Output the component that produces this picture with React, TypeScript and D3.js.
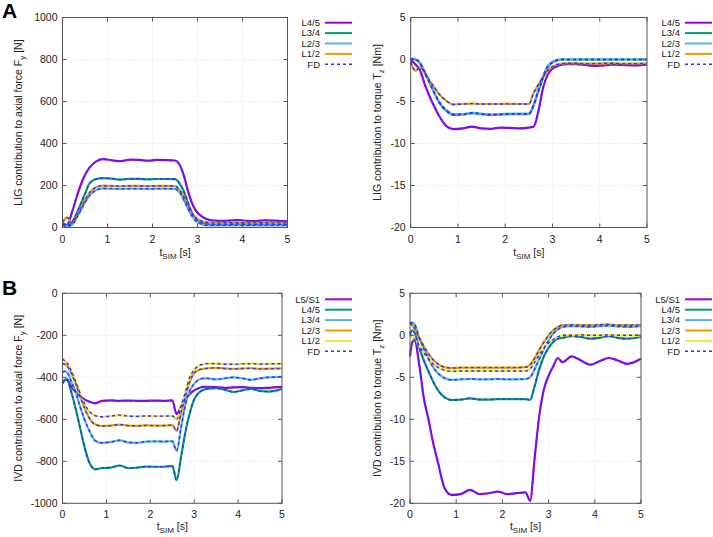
import * as d3 from 'd3';

// shared time samples [s]
const T = [0, 0.05, 0.1, 0.2, 0.3, 0.4, 0.5, 0.6, 0.75, 0.9, 1.1, 1.3, 1.5, 1.7, 1.9, 2.1, 2.3, 2.5, 2.6, 2.7, 2.8, 2.9, 3.0, 3.1, 3.2, 3.3, 3.5, 3.7, 3.9, 4.1, 4.3, 4.5, 4.7, 5.0];
const xTicks = [0, 1, 2, 3, 4, 5];

// A: ligament contribution to Fy [N]
const ligFyL45 = [20, 15, 12, 65, 135, 200, 250, 285, 315, 326, 320, 316, 323, 322, 318, 322, 321, 319, 300, 245, 165, 105, 70, 52, 40, 34, 32, 33, 35, 32, 31, 34, 33, 30];
const ligFyL34 = [15, 10, 8, 22, 60, 110, 160, 210, 231, 235, 233, 228, 232, 232, 229, 231, 231, 230, 210, 170, 110, 60, 35, 22, 17, 15, 14, 15, 16, 15, 14, 15, 15, 14];
const ligFyL23 = [10, 8, 6, 12, 40, 80, 120, 152, 178, 186, 185, 184, 185, 185, 184, 185, 185, 184, 168, 130, 85, 48, 25, 15, 11, 10, 10, 10, 11, 10, 10, 10, 10, 10];
const ligFyL12 = [25, 38, 48, 22, 50, 90, 130, 165, 192, 199, 198, 197, 198, 198, 197, 198, 198, 197, 180, 145, 100, 62, 40, 30, 25, 22, 22, 23, 23, 22, 22, 23, 22, 22];

// A: ligament contribution to Tz [Nm]
const ligTzL45 = [0, -0.3, -0.6, -1.3, -3.0, -4.4, -5.6, -6.7, -7.9, -8.3, -8.2, -8.0, -8.2, -8.25, -8.1, -8.15, -8.2, -8.1, -8.0, -6.2, -3.4, -1.8, -1.1, -0.8, -0.62, -0.55, -0.55, -0.65, -0.75, -0.7, -0.6, -0.65, -0.7, -0.6];
const ligTzL34 = [0, 0.05, 0, -0.5, -1.6, -2.8, -4.0, -5.1, -6.1, -6.6, -6.55, -6.4, -6.5, -6.6, -6.55, -6.5, -6.5, -6.5, -5.5, -3.8, -2.2, -0.9, -0.35, -0.1, 0, 0, 0, 0, 0, 0, 0, 0, 0, 0];
const ligTzL23 = [0.05, 0.1, 0.05, -0.4, -1.5, -2.7, -3.9, -5.0, -6.0, -6.5, -6.5, -6.35, -6.45, -6.55, -6.5, -6.45, -6.45, -6.45, -5.4, -3.6, -2.0, -0.8, -0.3, -0.05, 0, 0, 0, 0, 0, 0, 0, 0, 0, 0];
const ligTzL12 = [-0.3, -1.0, -1.35, -0.9, -1.6, -2.5, -3.3, -4.1, -4.9, -5.35, -5.3, -5.25, -5.3, -5.3, -5.3, -5.28, -5.3, -5.3, -4.0, -3.0, -2.1, -1.3, -0.85, -0.6, -0.5, -0.45, -0.45, -0.5, -0.5, -0.45, -0.45, -0.5, -0.5, -0.45];

// B: disc contribution to Fy [N]
const ivdFyL5S1 = [-425, -415, -410, -445, -470, -490, -505, -515, -524, -512, -510, -512, -511, -512, -512, -511, -512, -510, -575, -540, -505, -480, -462, -452, -446, -445, -447, -450, -448, -447, -450, -452, -450, -446];
const ivdFyL45 = [-430, -412, -410, -470, -550, -640, -730, -800, -838, -832, -830, -820, -833, -830, -825, -826, -826, -822, -890, -780, -660, -570, -505, -475, -460, -455, -452, -460, -470, -462, -455, -465, -468, -455];
const ivdFyL34 = [-375, -372, -375, -420, -470, -540, -600, -650, -702, -712, -708, -700, -710, -712, -706, -705, -706, -704, -750, -640, -530, -465, -430, -412, -405, -405, -410, -405, -400, -405, -412, -405, -400, -398];
const ivdFyL23 = [-335, -338, -345, -380, -430, -490, -545, -590, -625, -632, -630, -625, -630, -631, -629, -630, -630, -628, -655, -570, -490, -420, -380, -365, -360, -357, -355, -358, -360, -358, -357, -360, -359, -358];
const ivdFyL12 = [-312, -322, -330, -370, -420, -475, -525, -560, -583, -588, -585, -580, -585, -586, -584, -585, -585, -584, -600, -540, -470, -400, -365, -345, -338, -335, -335, -338, -338, -336, -335, -337, -336, -335];

// B: disc contribution to Tz [Nm]
const ivdTzL5S1 = [-2.5, -0.8, -0.6, -3.5, -7.5, -10.0, -12.8, -15.0, -18.2, -19.0, -18.9, -18.4, -18.9, -18.8, -18.6, -18.9, -18.8, -18.7, -19.7, -14.5, -9.5, -6.4, -4.8, -3.7, -2.7, -3.2, -2.5, -3.0, -3.5, -3.1, -2.7, -3.0, -3.4, -2.8];
const ivdTzL45 = [0.2, 0.6, 0.3, -1.5, -3.0, -4.3, -5.5, -6.5, -7.4, -7.7, -7.65, -7.5, -7.65, -7.65, -7.6, -7.6, -7.6, -7.6, -7.7, -6.0, -4.0, -2.5, -1.5, -0.8, -0.4, -0.3, -0.1, -0.2, -0.4, -0.3, -0.1, -0.3, -0.4, -0.2];
const ivdTzL34 = [1.5, 1.5, 1.3, -0.3, -1.6, -2.8, -3.8, -4.5, -5.1, -5.3, -5.25, -5.2, -5.25, -5.25, -5.2, -5.25, -5.25, -5.2, -5.0, -4.0, -2.8, -1.6, -0.6, 0.2, 0.7, 1.0, 1.1, 1.05, 1.0, 1.1, 1.15, 1.05, 1.0, 1.1];
const ivdTzL23 = [1.5, 1.2, 0.8, -0.3, -1.3, -2.2, -2.9, -3.4, -3.8, -3.9, -3.85, -3.85, -3.85, -3.85, -3.85, -3.85, -3.85, -3.8, -3.5, -2.7, -1.7, -0.8, 0, 0.6, 1.0, 1.2, 1.25, 1.2, 1.2, 1.25, 1.3, 1.2, 1.2, 1.25];
const ivdTzL12 = [0.2, -0.2, -0.5, -1.3, -2.1, -2.8, -3.4, -3.8, -4.15, -4.3, -4.25, -4.25, -4.25, -4.25, -4.25, -4.25, -4.25, -4.25, -4.0, -3.2, -2.3, -1.5, -0.9, -0.5, -0.2, 0, 0, 0.05, 0, 0, 0.05, 0, 0, 0];

const C = {
  purple: '#a000dc',
  green: '#009e73',
  cyan: '#56b4e9',
  orange: '#e69f00',
  yellow: '#f0e442',
  fd: '#2f2fff',
};

const FONT = '"Liberation Sans", Arial, sans-serif';

type Series = { name: string; color: string; values: number[] };

type PanelProps = {
  x0: number; x1: number; y0: number; y1: number;
  yDomain: [number, number];
  yTicks: number[];
  series: Series[];
  yLabel: [string, string, string];
  yLabelX: number;
  xLabelY: number;
  legendX: number;
  legendY: number;
};

const Panel = ({ x0, x1, y0, y1, yDomain, yTicks, series, yLabel, yLabelX, xLabelY, legendX, legendY }: PanelProps) => {
  const x = d3.scaleLinear().domain([0, 5]).range([x0, x1]);
  const y = d3.scaleLinear().domain(yDomain).range([y1, y0]);
  const line = d3.line<number>()
    .x((_, i) => x(T[i]))
    .y((d) => y(d))
    .curve(d3.curveMonotoneX);

  return (
    <g fontFamily={FONT} fontSize={10.5} fill="#222">
      {/* grid */}
      {xTicks.slice(1, -1).map((t) => (
        <line key={'gx' + t} x1={x(t)} x2={x(t)} y1={y0} y2={y1} stroke="#d0d0d0" strokeWidth={0.6} strokeDasharray="1,2" />
      ))}
      {yTicks.slice(1, -1).map((t) => (
        <line key={'gy' + t} x1={x0} x2={x1} y1={y(t)} y2={y(t)} stroke="#d0d0d0" strokeWidth={0.6} strokeDasharray="1,2" />
      ))}
      {/* curves: model lines with FD dashed on top */}
      {series.map((s) => (
        <path key={s.name} d={line(s.values) ?? undefined} fill="none" stroke={s.color} strokeWidth={2.2} strokeLinejoin="round" />
      ))}
      {series.map((s) => (
        <path key={'fd' + s.name} d={line(s.values) ?? undefined} fill="none" stroke={C.fd} strokeWidth={1.4} strokeDasharray="3,3" />
      ))}
      {/* frame and ticks */}
      <rect x={x0} y={y0} width={x1 - x0} height={y1 - y0} fill="none" stroke="#555" strokeWidth={1} />
      {xTicks.map((t) => (
        <g key={'tx' + t}>
          <line x1={x(t)} x2={x(t)} y1={y1} y2={y1 - 4} stroke="#555" />
          <line x1={x(t)} x2={x(t)} y1={y0} y2={y0 + 4} stroke="#555" />
          <text x={x(t)} y={y1 + 15} textAnchor="middle">{t}</text>
        </g>
      ))}
      {yTicks.map((t) => (
        <g key={'ty' + t}>
          <line x1={x0} x2={x0 + 4} y1={y(t)} y2={y(t)} stroke="#555" />
          <line x1={x1} x2={x1 - 4} y1={y(t)} y2={y(t)} stroke="#555" />
          <text x={x0 - 5} y={y(t) + 3.8} textAnchor="end">{t}</text>
        </g>
      ))}
      {/* axis labels */}
      <text x={(x0 + x1) / 2} y={xLabelY} textAnchor="middle">
        t<tspan dy={3} fontSize={8}>SIM</tspan><tspan dy={-3}> [s]</tspan>
      </text>
      <text transform={`translate(${yLabelX},${(y0 + y1) / 2}) rotate(-90)`} textAnchor="middle">
        {yLabel[0]}<tspan dy={3} fontSize={8}>{yLabel[1]}</tspan><tspan dy={-3}>{yLabel[2]}</tspan>
      </text>
      {/* legend */}
      {[...series, { name: 'FD', color: C.fd, values: [] }].map((s, i) => {
        const ly = legendY + i * 10.4;
        const isFd = s.name === 'FD';
        return (
          <g key={'lg' + s.name}>
            <text x={legendX} y={ly + 3.3} textAnchor="end" fontSize={9.5}>{s.name}</text>
            <line x1={legendX + 5} x2={legendX + 32} y1={ly} y2={ly} stroke={s.color}
              strokeWidth={isFd ? 1.4 : 2} strokeDasharray={isFd ? '3,3' : undefined} />
          </g>
        );
      })}
    </g>
  );
};

export default function App() {
  return (
    <svg width={713} height={537} style={{ position: 'absolute', left: 0, top: 0, background: '#fff' }}>
      <rect width={713} height={537} fill="#fff" />
      <text x={2} y={18} fontFamily={FONT} fontWeight="bold" fontSize={21}>A</text>
      <text x={2} y={295} fontFamily={FONT} fontWeight="bold" fontSize={21}>B</text>
      <Panel x0={62.5} x1={287.5} y0={17.5} y1={227.5} yDomain={[0, 1000]} yTicks={[0, 200, 400, 600, 800, 1000]}
        series={[
          { name: 'L4/5', color: C.purple, values: ligFyL45 },
          { name: 'L3/4', color: C.green, values: ligFyL34 },
          { name: 'L2/3', color: C.cyan, values: ligFyL23 },
          { name: 'L1/2', color: C.orange, values: ligFyL12 },
        ]}
        yLabel={['LIG contribution to axial force F', 'y', ' [N]']} yLabelX={22} xLabelY={256} legendX={320} legendY={22.7} />
      <Panel x0={410.7} x1={647} y0={17.5} y1={227.5} yDomain={[-20, 5]} yTicks={[-20, -15, -10, -5, 0, 5]}
        series={[
          { name: 'L4/5', color: C.purple, values: ligTzL45 },
          { name: 'L3/4', color: C.green, values: ligTzL34 },
          { name: 'L2/3', color: C.cyan, values: ligTzL23 },
          { name: 'L1/2', color: C.orange, values: ligTzL12 },
        ]}
        yLabel={['LIG contribution to torque T', 'z', ' [Nm]']} yLabelX={381} xLabelY={256} legendX={680} legendY={22.7} />
      <Panel x0={62.5} x1={282} y0={293.3} y1={503.3} yDomain={[-1000, 0]} yTicks={[-1000, -800, -600, -400, -200, 0]}
        series={[
          { name: 'L5/S1', color: C.purple, values: ivdFyL5S1 },
          { name: 'L4/5', color: C.green, values: ivdFyL45 },
          { name: 'L3/4', color: C.cyan, values: ivdFyL34 },
          { name: 'L2/3', color: C.orange, values: ivdFyL23 },
          { name: 'L1/2', color: C.yellow, values: ivdFyL12 },
        ]}
        yLabel={['IVD contribution to axial force F', 'y', ' [N]']} yLabelX={22} xLabelY={530} legendX={320} legendY={299.3} />
      <Panel x0={410} x1={641} y0={293.3} y1={503.3} yDomain={[-20, 5]} yTicks={[-20, -15, -10, -5, 0, 5]}
        series={[
          { name: 'L5/S1', color: C.purple, values: ivdTzL5S1 },
          { name: 'L4/5', color: C.green, values: ivdTzL45 },
          { name: 'L3/4', color: C.cyan, values: ivdTzL34 },
          { name: 'L2/3', color: C.orange, values: ivdTzL23 },
          { name: 'L1/2', color: C.yellow, values: ivdTzL12 },
        ]}
        yLabel={['IVD contribution to torque T', 'z', ' [Nm]']} yLabelX={381} xLabelY={530} legendX={680} legendY={299.3} />
    </svg>
  );
}
